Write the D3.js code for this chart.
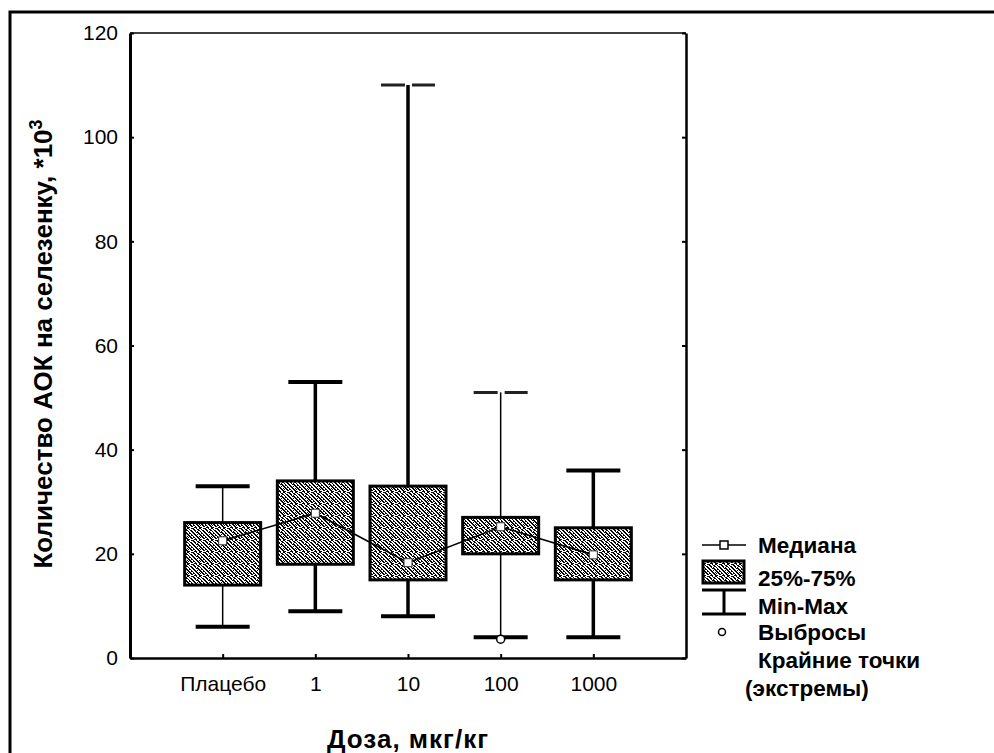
<!DOCTYPE html>
<html>
<head>
<meta charset="utf-8">
<script src="https://cdn.jsdelivr.net/npm/d3@7"></script>
<style>
  body { margin: 0; background: #fff; }
  svg { display: block; font-family: "Liberation Sans", Arial, sans-serif; }
</style>
</head>
<body>
<div id="chart"></div>
<script>
// box plot values (thousands of AFC per spleen)
const categories = ["Плацебо", "1", "10", "100", "1000"];
const mins = [6, 9, 8, 4, 4];
const q1 = [14, 18, 15, 20, 15];
const medians = [22.5, 27.8, 18.3, 25.2, 19.8];
const q3 = [26, 34, 33, 27, 25];
const maxs = [33, 53, 110, 51, 36];
const outlierCats = ["100"];
const outlierValues = [3.6];
const yTicks = [0, 20, 40, 60, 80, 100, 120];
const legendLabels = ["Медиана", "25%-75%", "Min-Max", "Выбросы", "Крайние точки", "(экстремы)"];

const width = 994;
const height = 753;
const marginLeft = 130;
const marginRight = 308;
const marginTop = 33;
const marginBottom = 95;

const rows = categories.map((c, i) => ({
  cat: c, min: mins[i], q1: q1[i], median: medians[i], q3: q3[i], max: maxs[i]
}));

const x = d3.scalePoint()
    .domain(categories)
    .range([marginLeft, width - marginRight])
    .padding(1);

const y = d3.scaleLinear()
    .domain([0, 120])
    .range([height - marginBottom, marginTop]);

const svg = d3.create("svg")
    .attr("width", width)
    .attr("height", height)
    .attr("viewBox", [0, 0, width, height]);

// grainy box fill, like the old Statistica texture
const bitmap = [
  "110010011001",
  "011001100100",
  "001100110011",
  "100101001001",
  "110011100100",
  "011000110110",
  "001101011001",
  "100110001101",
  "010011010110",
  "011001101011",
  "100100110001",
  "001110011100"
];
const pat = svg.append("defs").append("pattern")
    .attr("id", "grain")
    .attr("patternUnits", "userSpaceOnUse")
    .attr("width", 12)
    .attr("height", 12);
pat.append("rect").attr("width", 12).attr("height", 12).attr("fill", "#fff");
bitmap.forEach((row, r) => {
  row.split("").forEach((b, c) => {
    if (b === "1") pat.append("rect").attr("x", c).attr("y", r).attr("width", 1).attr("height", 1).attr("fill", "#000");
  });
});

// outer figure frame
svg.append("path")
    .attr("d", `M10,${height}V12H${width}`)
    .attr("fill", "none")
    .attr("stroke", "#000")
    .attr("stroke-width", 3);

const bw = 38;   // half box width
const cw = 27;   // half cap width
const thin = new Set(["Плацебо", "100"]);
const splitCap = new Set(["10", "100"]);

const g = svg.append("g");

// whiskers
g.selectAll(".whisker")
  .data(rows)
  .join("line")
    .attr("x1", d => x(d.cat))
    .attr("x2", d => x(d.cat))
    .attr("y1", d => y(d.max))
    .attr("y2", d => y(d.min))
    .attr("stroke", "#000")
    .attr("stroke-width", d => thin.has(d.cat) ? 1.5 : 3.5);

// min caps
g.selectAll(".capmin")
  .data(rows)
  .join("line")
    .attr("x1", d => x(d.cat) - cw)
    .attr("x2", d => x(d.cat) + cw)
    .attr("y1", d => y(d.min))
    .attr("y2", d => y(d.min))
    .attr("stroke", "#000")
    .attr("stroke-width", 4);

// max caps, the tall ones print with a gap in the middle
g.selectAll(".capmax")
  .data(rows)
  .join("path")
    .attr("d", d => {
      const cx = x(d.cat), yy = y(d.max);
      if (splitCap.has(d.cat)) {
        return `M${cx - cw},${yy}H${cx - 3}M${cx + 4},${yy}H${cx + cw}`;
      }
      return `M${cx - cw},${yy}H${cx + cw}`;
    })
    .attr("fill", "none")
    .attr("stroke", d => splitCap.has(d.cat) ? "#222" : "#000")
    .attr("stroke-width", d => splitCap.has(d.cat) ? 3 : 4);

// boxes
g.selectAll(".box")
  .data(rows)
  .join("rect")
    .attr("x", d => x(d.cat) - bw)
    .attr("y", d => y(d.q3))
    .attr("width", bw * 2)
    .attr("height", d => y(d.q1) - y(d.q3))
    .attr("fill", "url(#grain)")
    .attr("stroke", "#000")
    .attr("stroke-width", 3);

// median line
const line = d3.line()
    .x(d => x(d.cat))
    .y(d => y(d.median));

g.append("path")
    .datum(rows)
    .attr("d", line)
    .attr("fill", "none")
    .attr("stroke", "#000")
    .attr("stroke-width", 1.6);

g.selectAll(".med")
  .data(rows)
  .join("rect")
    .attr("x", d => x(d.cat) - 4)
    .attr("y", d => y(d.median) - 4)
    .attr("width", 8)
    .attr("height", 8)
    .attr("fill", "#fff")
    .attr("stroke", "#333")
    .attr("stroke-width", 1);

// outliers
g.selectAll(".out")
  .data(outlierCats.map((c, i) => ({cat: c, value: outlierValues[i]})))
  .join("circle")
    .attr("cx", d => x(d.cat))
    .attr("cy", d => y(d.value))
    .attr("r", 4)
    .attr("fill", "#fff")
    .attr("stroke", "#000")
    .attr("stroke-width", 1.5);

// axes
const plotRight = width - marginRight;
const plotBottom = height - marginBottom;

svg.append("g")
    .attr("transform", `translate(${marginLeft},0)`)
    .call(d3.axisLeft(y).tickValues(yTicks).tickSizeInner(-4).tickSizeOuter(0).tickPadding(12))
    .call(a => a.select(".domain").attr("stroke-width", 3))
    .call(a => a.selectAll(".tick line").attr("stroke-width", 2))
    .call(a => a.selectAll(".tick text").attr("font-size", 21).attr("fill", "#000"));

svg.append("g")
    .attr("transform", `translate(${plotRight},0)`)
    .call(d3.axisRight(y).tickValues(yTicks).tickSizeInner(-4).tickSizeOuter(0).tickFormat(""))
    .call(a => a.select(".domain").attr("stroke-width", 2.5))
    .call(a => a.selectAll(".tick line").attr("stroke-width", 2));

svg.append("line")
    .attr("x1", marginLeft).attr("x2", plotRight)
    .attr("y1", marginTop).attr("y2", marginTop)
    .attr("stroke", "#000").attr("stroke-width", 1.5);

svg.append("g")
    .attr("transform", `translate(0,${plotBottom})`)
    .call(d3.axisBottom(x).tickSizeInner(-4).tickSizeOuter(0).tickPadding(18))
    .call(a => a.select(".domain").attr("stroke-width", 2.5))
    .call(a => a.selectAll(".tick line").attr("stroke-width", 2))
    .call(a => a.selectAll(".tick text").attr("font-size", 21).attr("fill", "#000"));

// axis titles
svg.append("text")
    .attr("x", (marginLeft + plotRight) / 2)
    .attr("y", 748)
    .attr("text-anchor", "middle")
    .attr("font-size", 26)
    .attr("letter-spacing", 1)
    .attr("font-weight", "bold")
    .text("Доза, мкг/кг");

const yt = svg.append("text")
    .attr("transform", `translate(52,${344}) rotate(-90)`)
    .attr("text-anchor", "middle")
    .attr("font-size", 26)
    .attr("font-weight", "bold");
yt.append("tspan").text("Количество АОК на селезенку, *10");
yt.append("tspan").attr("dy", -10).attr("font-size", 18).text("3");

// legend
const lx = 702, ltx = 758;
const ly = [545, 578, 606, 632, 660, 688];
const leg = svg.append("g").attr("stroke", "#000").attr("fill", "none");

leg.append("line").attr("x1", lx).attr("x2", lx + 44).attr("y1", ly[0]).attr("y2", ly[0]).attr("stroke-width", 1.5);
leg.append("rect").attr("x", lx + 18).attr("y", ly[0] - 4).attr("width", 8).attr("height", 8)
    .attr("fill", "#fff").attr("stroke-width", 1.5);

leg.append("rect").attr("x", lx + 1).attr("y", ly[1] - 17).attr("width", 41).attr("height", 22)
    .attr("fill", "url(#grain)").attr("stroke-width", 3);

leg.append("path")
    .attr("d", `M${lx},${ly[2] - 16}H${lx + 44}M${lx + 22},${ly[2] - 16}V${ly[2] + 8}M${lx},${ly[2] + 8}H${lx + 44}`)
    .attr("stroke-width", 3);

leg.append("circle").attr("cx", lx + 20).attr("cy", ly[3]).attr("r", 3.5)
    .attr("fill", "#fff").attr("stroke-width", 1.5);

svg.append("g")
    .attr("font-size", 22.5)
    .attr("font-weight", "bold")
    .selectAll("text")
    .data(legendLabels)
    .join("text")
      .attr("x", (d, i) => i === 5 ? ltx - 13 : ltx)
      .attr("y", (d, i) => ly[i])
      .attr("dy", "0.36em")
      .text(d => d);

d3.select("#chart").node().append(svg.node());
</script>
</body>
</html>
